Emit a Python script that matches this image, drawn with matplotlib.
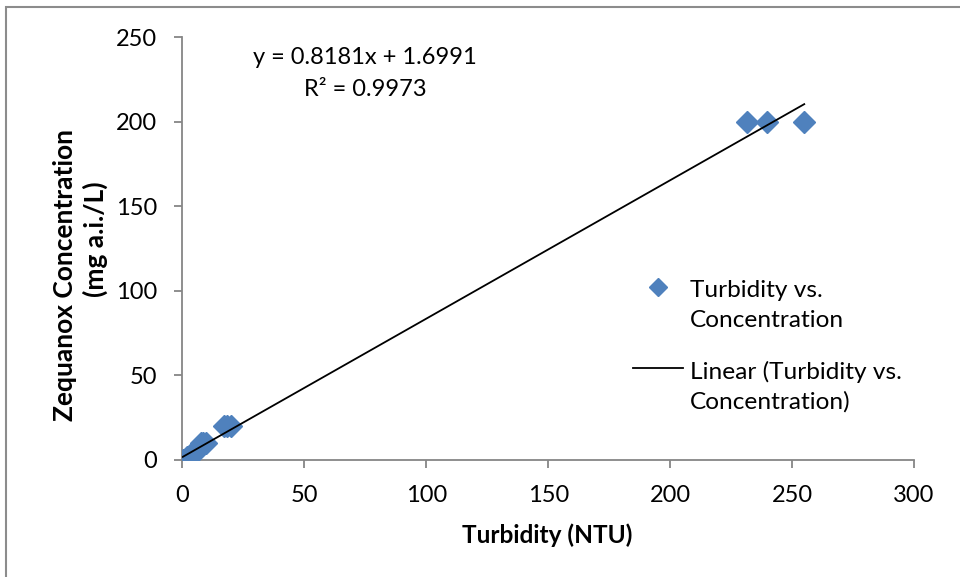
import matplotlib
matplotlib.use("Agg")
import matplotlib.pyplot as plt
from matplotlib.patches import Rectangle
from matplotlib.lines import Line2D
import numpy as np

# ---- data ----
turbidity = [0.2, 0.6, 0.9, 1.8, 2.2, 2.6, 4.5, 5.0, 5.6, 7.8, 8.6, 9.8,
             17.2, 18.4, 19.8, 231.7, 239.9, 255.0]
concentration = [0, 0, 0, 2, 2, 2, 5, 5, 5, 10, 10, 10,
                 20, 20, 20, 200, 200, 200]
slope = 0.8181
intercept = 1.6991
r_squared = 0.9973
x_ticks = [0, 50, 100, 150, 200, 250, 300]
y_ticks = [0, 50, 100, 150, 200, 250]
series_label = ['Turbidity vs.', 'Concentration']
trend_label = ['Linear (Turbidity vs.', 'Concentration)']

FONT = "Lato"
FS = 17
plt.rcParams['font.family'] = [FONT, 'DejaVu Sans']

fig = plt.figure(figsize=(9.6, 5.77), dpi=100)
W, H = 960, 577
def fx(px):
    return px / W
def fy(py):
    return 1 - py / H

ax = fig.add_axes([fx(182.3), fy(460), (914 - 182.3) / W, (460 - 37) / H])

blue = '#4F81BD'
ax.plot(turbidity, concentration, linestyle='none', marker='D', ms=10.8,
        color=blue, mec=blue, zorder=3)

xt = np.array([min(turbidity), max(turbidity)])
ax.plot(xt, slope * xt + intercept, color='black', lw=1.3, zorder=4)

ax.set_xlim(0, 300)
ax.set_ylim(0, 250)
ax.set_xticks(x_ticks)
ax.set_yticks(y_ticks)
for s in ['top', 'right']:
    ax.spines[s].set_visible(False)
for s in ['left', 'bottom']:
    ax.spines[s].set_color('#868686')
    ax.spines[s].set_linewidth(1.3)
ax.tick_params(direction='out', length=5.8, width=1.3, color='#868686',
               labelsize=FS, labelcolor='black')
ax.tick_params(axis='y', pad=12.5)
ax.tick_params(axis='x', pad=12.5)

fig.text(fx(547), fy(535), 'Turbidity (NTU)', ha='center', va='center',
         fontsize=17.6, fontweight='bold')
fig.text(fx(65), fy(275), 'Zequanox Concentration', ha='center',
         va='center', rotation=90, fontsize=19, fontweight='bold')
fig.text(fx(95), fy(239), '(mg a.i./L)', ha='center',
         va='center', rotation=90, fontsize=19, fontweight='bold')

fig.text(fx(365), fy(58), 'y = %.4fx + %.4f' % (slope, intercept), ha='center',
         va='center', fontsize=FS)
fig.text(fx(365), fy(90), 'R² = %.4f' % r_squared, ha='center',
         va='center', fontsize=FS)

# legend (Excel style: key aligned with first text line)
LFS = 17.6
fig.add_artist(Line2D([fx(658)], [fy(287)], marker='D', ms=9, color=blue,
                      mec=blue, linestyle='none'))
fig.add_artist(Line2D([fx(633), fx(683)], [fy(368), fy(368)], color='black', lw=1.3))
for i, t in enumerate(series_label):
    fig.text(fx(690), fy(297 + 30 * i), t, ha='left', va='baseline', fontsize=LFS)
for i, t in enumerate(trend_label):
    fig.text(fx(690), fy(379 + 30 * i), t, ha='left', va='baseline', fontsize=LFS)

fig.patches.append(Rectangle((fx(6), -0.2), 1.2, fy(7) + 0.2,
                             transform=fig.transFigure, fill=False,
                             edgecolor='#8c8c8c', lw=1.5))

fig.savefig('out.png', dpi=100)
